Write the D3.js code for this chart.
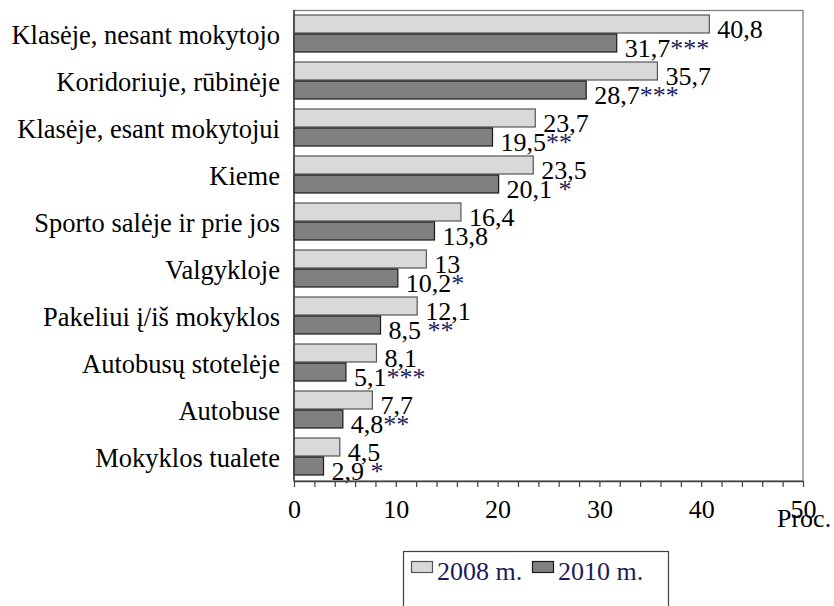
<!DOCTYPE html>
<html>
<head>
<meta charset="utf-8">
<script src="https://cdn.jsdelivr.net/npm/d3@7/dist/d3.min.js"></script>
<style>
  html, body { margin: 0; padding: 0; background: #fff; }
  svg { display: block; }
  svg text { font-family: "Liberation Serif", "Times New Roman", serif !important; }
</style>
</head>
<body>
<svg id="chart" width="834" height="606"></svg>
<script>
const categories = ["Klasėje, nesant mokytojo", "Koridoriuje, rūbinėje", "Klasėje, esant mokytojui", "Kieme", "Sporto salėje ir prie jos", "Valgykloje", "Pakeliui į/iš mokyklos", "Autobusų stotelėje", "Autobuse", "Mokyklos tualete"];
const series = ["2008 m.", "2010 m."];
const values2008 = [40.8, 35.7, 23.7, 23.5, 16.4, 13, 12.1, 8.1, 7.7, 4.5];
const values2010 = [31.7, 28.7, 19.5, 20.1, 13.8, 10.2, 8.5, 5.1, 4.8, 2.9];
const significance = ["***", "***", "**", " *", "", "*", " **", "***", "**", " *"];
const xTicks = [0, 10, 20, 30, 40, 50];
const axisTitle = "Proc.";

const FONT = "'Liberation Serif', 'Times New Roman', serif";
const svg = d3.select("#chart").attr("font-family", FONT);
const FS = 26;
const navy = "#1c1c5c";
const colors = ["#d9d9d9", "#808080"];
const strokes = ["#555555", "#1a1a1a"];

const x = d3.scaleLinear().domain([0, 50]).range([294, 803]);
const y = d3.scaleBand().domain(categories).range([10, 480])
  .paddingInner(9 / 47).paddingOuter(4.5 / 47);
const sub = d3.scaleBand().domain(series).range([0, y.bandwidth()]);

// plot frame
svg.append("rect")
  .attr("x", x(0)).attr("y", 10.5)
  .attr("width", x(50) - x(0)).attr("height", 481 - 10.5)
  .attr("fill", "none").attr("stroke", "#808080").attr("stroke-width", 1.3);

const rows = categories.map((c, i) => ({ c, v: [values2008[i], values2010[i]], sig: significance[i] }));

const g = svg.append("g");
rows.forEach(r => {
  series.forEach((s, k) => {
    g.append("rect")
      .attr("x", x(0))
      .attr("y", y(r.c) + sub(s) + 0.5)
      .attr("width", x(r.v[k]) - x(0))
      .attr("height", sub.bandwidth() - 1)
      .attr("fill", colors[k])
      .attr("stroke", strokes[k])
      .attr("stroke-width", 1.2);
  });
});

// value labels
const fmt = v => String(v).replace(".", ",");
rows.forEach(r => {
  series.forEach((s, k) => {
    const t = svg.append("text")
      .attr("x", x(r.v[k]) + 8)
      .attr("y", y(r.c) + sub(s) + sub.bandwidth() / 2 + 14)
      .attr("font-family", FONT)
      .attr("font-size", FS)
      .attr("fill", "#000")
      .style("white-space", "pre");
    t.append("tspan").text(fmt(r.v[k]));
    if (k === 1 && r.sig) t.append("tspan").attr("fill", navy).text(r.sig);
  });
});

// category labels
svg.append("g").selectAll("text").data(categories).join("text")
  .attr("x", 280)
  .attr("y", d => y(d) + y.bandwidth() / 2 + 10)
  .attr("text-anchor", "end")
  .attr("font-family", FONT)
  .attr("font-size", 26.5)
  .attr("fill", "#000")
  .text(d => d);

// y axis line
svg.append("line")
  .attr("x1", x(0)).attr("x2", x(0)).attr("y1", 10).attr("y2", 481)
  .attr("stroke", "#404040").attr("stroke-width", 1.5);

// x axis
const xAxis = d3.axisBottom(x)
  .tickValues(d3.range(0, 51, 2))
  .tickSize(6).tickSizeOuter(0).tickPadding(13)
  .tickFormat(d => xTicks.includes(d) ? String(d) : "");
const ax = svg.append("g").attr("transform", "translate(0,481)").call(xAxis)
  .attr("font-family", FONT);
ax.select(".domain").attr("stroke", "#404040").attr("stroke-width", 1.5);
ax.selectAll(".tick line").attr("stroke", "#404040").attr("stroke-width", 1.2);
ax.selectAll(".tick text").attr("font-size", FS).attr("fill", "#000")
  .attr("font-family", FONT);

svg.append("text")
  .attr("x", 777).attr("y", 527)
  .attr("font-family", FONT)
  .attr("font-size", FS).attr("fill", "#000")
  .text(axisTitle);

// legend
const lg = svg.append("g");
lg.append("rect").attr("x", 403.5).attr("y", 551.5).attr("width", 265).attr("height", 80)
  .attr("fill", "#fff").attr("stroke", "#404040").attr("stroke-width", 1.2);
const legX = [411, 532];
series.forEach((s, k) => {
  lg.append("rect").attr("x", legX[k] + 0.5).attr("y", 561.5).attr("width", 21).attr("height", 11)
    .attr("fill", colors[k]).attr("stroke", strokes[k]).attr("stroke-width", 1.2);
  lg.append("text").attr("x", legX[k] + 26).attr("y", 580)
    .attr("font-family", FONT)
    .attr("font-size", 26).attr("fill", navy).text(s);
});
</script>
</body>
</html>
